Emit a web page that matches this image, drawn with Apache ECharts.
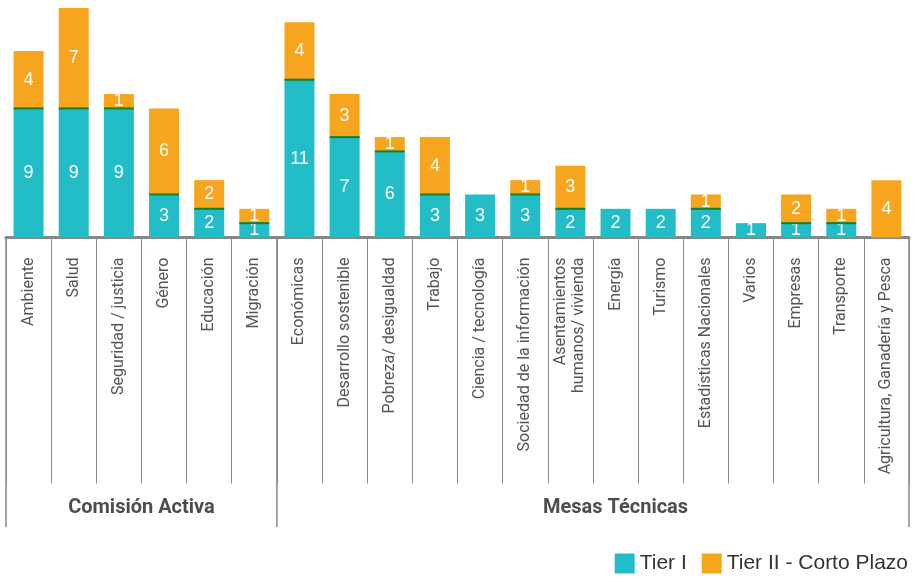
<!DOCTYPE html>
<html>
<head>
<meta charset="utf-8">
<script src="https://cdn.jsdelivr.net/npm/echarts@6/dist/echarts.min.js"></script>
<style>html,body{margin:0;padding:0;background:#fff;}#c{width:915px;height:582px;}</style>
</head>
<body>
<div id="c"></div>
<script>
const categories = ['Ambiente','Salud','Seguridad / justicia','Género','Educación','Migración',
  'Económicas','Desarrollo sostenible','Pobreza/ desigualdad','Trabajo','Ciencia / tecnología',
  'Sociedad de la información','Asentamientos\nhumanos/ vivienda','Energía','Turismo',
  'Estadísticas Nacionales','Varios','Empresas','Transporte','Agricultura, Ganadería y Pesca'];
const tier1 = [9,9,9,3,2,1,11,7,6,3,3,3,2,2,2,2,1,1,1,0];
const tier2 = [4,7,1,6,2,1,4,3,1,4,0,1,3,0,0,1,0,2,1,4];
const groupNames = ['Comisión Activa','Mesas Técnicas'];
const groupSizes = [6,14];
const seriesNames = ['Tier I','Tier II - Corto Plazo'];

const TEAL = '#22bdc7', ORANGE = '#f7a41e';
const chart = echarts.init(document.getElementById('c'), null, {renderer:'canvas'});
const lbl = {show:true, position:'inside', color:'#fff', fontSize:18, fontFamily:'Liberation Sans, Arial',
  formatter: p => p.value ? String(p.value) : ''};
const option = {
  animation:false,
  grid:{left:6, right:6, top:8, height:229.5},
  legend:{data:seriesNames, right:2, bottom:3, itemWidth:20, itemHeight:20, itemGap:15, icon:'rect',
    textStyle:{fontSize:21, color:'#333', fontFamily:'Liberation Sans, Arial'}},
  xAxis:{type:'category', data:categories,
    axisLine:{lineStyle:{color:'#868686', width:3}},
    axisTick:{show:true, length:246, lineStyle:{color:'#8a8a8a', width:1}},
    axisLabel:{interval:0, rotate:90, margin:20, fontSize:16, color:'#555', fontFamily:'Roboto', lineHeight:18}},
  yAxis:{type:'value', min:0, max:16, show:false},
  series:[
    {name:seriesNames[0], type:'bar', stack:'t', barWidth:30, itemStyle:{color:TEAL},
      data: tier1.map(v => v || null), label:lbl},
    {name:seriesNames[1], type:'bar', stack:'t', barWidth:30, itemStyle:{color:ORANGE},
      data: tier2.map(v => v || null), label:lbl},
    {name:'div', type:'scatter', symbol:'rect', symbolSize:[30,2], itemStyle:{color:'#1a7f1f', opacity:1},
      silent:true, z:5, data: tier1.map((v,i) => (v && tier2[i]) ? v : null)}
  ]
};
chart.setOption(option);

// group separators and labels
const c0 = chart.convertToPixel({xAxisIndex:0}, 0);
const c1 = chart.convertToPixel({xAxisIndex:0}, 1);
const band = c1 - c0;
const bx = i => c0 - band/2 + i*band;
const yAxisPx = chart.convertToPixel({yAxisIndex:0}, 0);
const graphics = [];
let start = 0;
const bounds = [0];
groupSizes.forEach(s => { start += s; bounds.push(start); });
bounds.forEach(b => {
  graphics.push({type:'line', shape:{x1:bx(b), y1:yAxisPx, x2:bx(b), y2:527},
    style:{stroke:'#888', lineWidth:1.5}, z:10});
});
groupNames.forEach((g,i) => {
  let cx = (bx(bounds[i]) + bx(bounds[i+1]))/2;
  if (i === 1) cx = bx(bounds[i]) + band*7.5;
  graphics.push({type:'text', x:cx, y:508, style:{text:g, align:'center', verticalAlign:'middle',
    font:'bold 20px Roboto', fill:'#4d4d4d'}, z:10});
});
chart.setOption({graphic:graphics});
</script>
</body>
</html>
